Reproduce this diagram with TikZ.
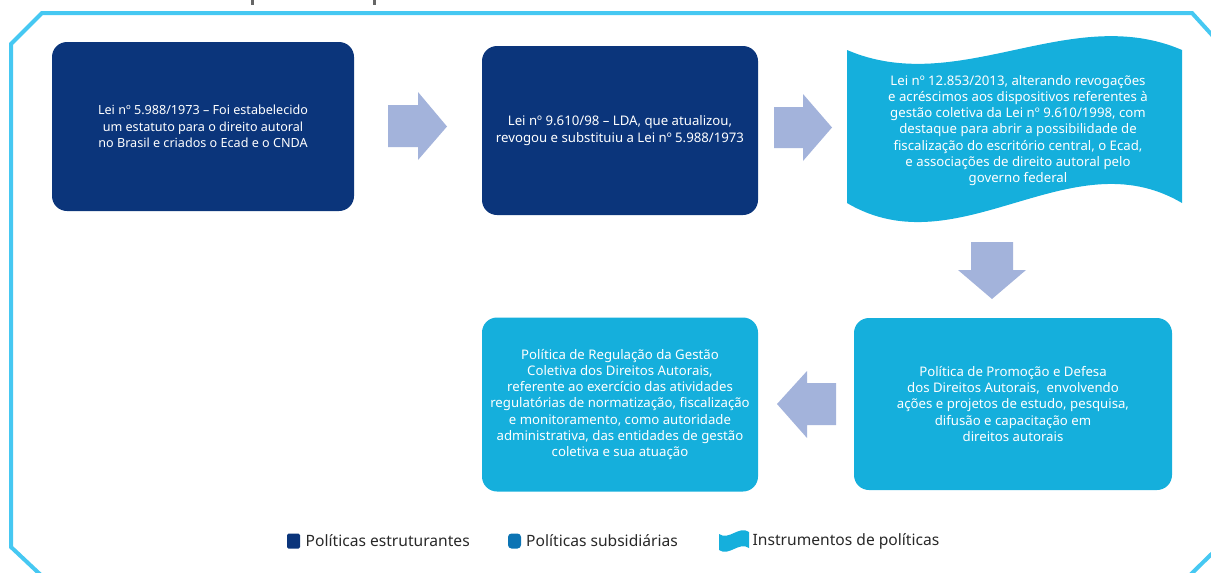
\documentclass[tikz,border=0pt]{standalone}
\usepackage{fontspec}
\setmainfont{Noto Sans}
\definecolor{navy}{RGB}{11,53,123}
\definecolor{cyanb}{RGB}{21,175,220}
\definecolor{arrowc}{RGB}{163,179,219}
\definecolor{framec}{RGB}{70,200,242}
\definecolor{subsid}{RGB}{12,116,180}
\definecolor{legtext}{RGB}{40,40,40}
\begin{document}
\begin{tikzpicture}[x=1pt,y=-1pt,
  box/.style={rounded corners=15pt, text=white, align=center, inner sep=0pt,
    font=\fontsize{13.2}{16.2}\selectfont},
  navybox/.style={box, fill=navy},
  cyanbox/.style={box, fill=cyanb},
  blockarrow/.style={fill=arrowc},
  framel/.style={draw=framec, line width=4pt, line join=miter},
  legtxt/.style={anchor=west, inner sep=0pt, text=legtext, font=\fontsize{15.6}{18}\selectfont},
  legsq/.style={minimum width=13pt, minimum height=15pt, inner sep=0pt}
]
\useasboundingbox (0,0) rectangle (1211,573);
% cut-off title fragments
\fill[gray!80!black] (251,0) rectangle (254,5);
\fill[gray!80!black] (373,0) rectangle (376,5);
% frame
\draw[framel] (1232,57) -- (1192,13) -- (42,13) -- (11,44) -- (11,547) -- (44,578);
\draw[framel] (1230,536) -- (1187,578);
% boxes
\node[navybox, minimum width=302pt, minimum height=169pt, font=\fontsize{12.6}{16.6}\selectfont] (b1) at (203,126.5)
  {Lei nº 5.988/1973 – Foi estabelecido\\um estatuto para o direito autoral\\no Brasil e criados o Ecad e o CNDA};
\node[navybox, minimum width=276pt, minimum height=169pt] (b2) at (620,130.5)
  {Lei nº 9.610/98 – LDA, que atualizou,\\revogou e substituiu a Lei nº 5.988/1973};
% wave
\fill[cyanb] (847,50) .. controls (958.7,98) and (1070.3,2) .. (1182,50)
  -- (1182,203) .. controls (1070.3,137) and (958.7,269) .. (847,203) -- cycle;
\node[align=center, text=white, inner sep=0pt, font=\fontsize{13.2}{16.2}\selectfont] (w) at (1018,130.5)
  {Lei nº 12.853/2013, alterando revogações\\e acréscimos aos dispositivos referentes à\\gestão coletiva da Lei nº 9.610/1998, com\\destaque para abrir a possibilidade de\\fiscalização do escritório central, o Ecad,\\e associações de direito autoral pelo\\governo federal};
\node[cyanbox, minimum width=276pt, minimum height=174pt] (b3) at (620,404.5)
  {Política de Regulação da Gestão\\Coletiva dos Direitos Autorais,\\referente ao exercício das atividades\\regulatórias de normatização, fiscalização\\e monitoramento, como autoridade\\administrativa, das entidades de gestão\\coletiva e sua atuação};
\node[cyanbox, minimum width=318pt, minimum height=172pt] (b4) at (1013,404)
  {Política de Promoção e Defesa\\dos Direitos Autorais,\ \ envolvendo\\ações e projetos de estudo, pesquisa,\\difusão e capacitação em\\direitos autorais};
% block arrows
\fill[blockarrow] (388,105) -- (418,105) -- (418,92) -- (447,126.5) -- (418,160) -- (418,147) -- (388,147) -- cycle;
\fill[blockarrow] (774,107) -- (803,107) -- (803,94) -- (832,127.5) -- (803,161) -- (803,148) -- (774,148) -- cycle;
\fill[blockarrow] (971,242) -- (1013,242) -- (1013,270) -- (1026,270) -- (992,299) -- (958,270) -- (971,270) -- cycle;
\fill[blockarrow] (836,383) -- (836,425) -- (807,425) -- (807,438) -- (777,404) -- (807,371) -- (807,383) -- cycle;
% legend
\node[legsq, fill=navy, rounded corners=1.5pt] (l1) at (293.5,541) {};
\node[legtxt] (t1) at (305.5,541) {Políticas estruturantes};
\node[legsq, fill=subsid, rounded corners=3.5pt] (l2) at (514.5,541) {};
\node[legtxt] (t2) at (526,541) {Políticas subsidiárias};
\fill[cyanb] (719,534) .. controls (729,541) and (739,525) .. (749,532)
  -- (749,548) .. controls (739,541) and (729,557) .. (719,550) -- cycle;
\node[legtxt] (t3) at (752.5,541) {Instrumentos de políticas};
\end{tikzpicture}
\end{document}
